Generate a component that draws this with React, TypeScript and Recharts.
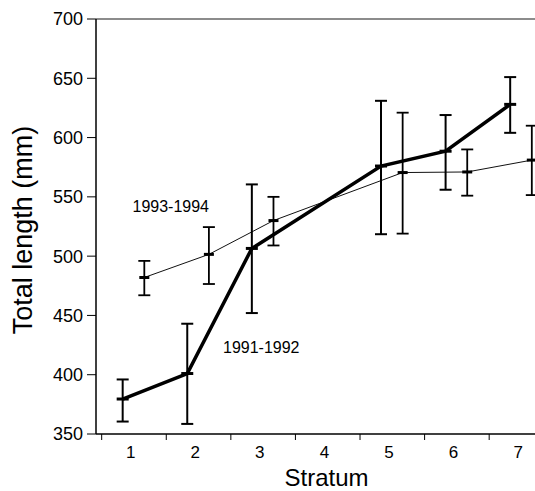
import React from "react";
import { LineChart, Line, XAxis, YAxis, ErrorBar, ReferenceLine } from "recharts";

// strata sampled in each period (stratum 4 has no sample)
const strata = [1, 2, 3, 5, 6, 7];

// 1991-1992 mean total length and error bar limits (mm)
const mean9192 = [379.5, 401, 506.5, 576, 588.5, 628];
const upper9192 = [396, 443, 560.5, 631, 619, 651];
const lower9192 = [360.5, 358.5, 452, 518.5, 556, 604];

// 1993-1994
const mean9394 = [482, 501.5, 530, 570.5, 571, 581];
const upper9394 = [496, 524.5, 550, 621, 590, 610];
const lower9394 = [467, 476.5, 509, 519, 551, 551.5];

const yTicks = [350, 400, 450, 500, 550, 600, 650, 700];
// tick marks sit on the stratum boundaries, labels inside each stratum
const xBoundaries = [0.5, 1.5, 2.5, 3.5, 4.5, 5.5, 6.5];

// the two periods are drawn side by side inside a stratum
const OFFSET_9192 = -0.175;
const OFFSET_9394 = 0.16;

const build = (means: number[], upper: number[], lower: number[], offset: number) =>
  strata.map((s, i) => ({
    x: s + offset,
    y: means[i],
    err: [means[i] - lower[i], upper[i] - means[i]],
  }));

const data9192 = build(mean9192, upper9192, lower9192, OFFSET_9192);
const data9394 = build(mean9394, upper9394, lower9394, OFFSET_9394);

const FONT = "Arial, 'Liberation Sans', Helvetica, sans-serif";

const Dash = (w: number, key: string) => (props: any) => {
  const { cx, cy, index } = props;
  return (
    <line
      key={`${key}-${index}`}
      x1={cx - w}
      x2={cx + w}
      y1={cy}
      y2={cy}
      stroke="#000"
      strokeWidth={3}
    />
  );
};

const StratumTick = (props: any) => {
  const { x, payload } = props;
  return (
    <text x={x + 29} y={458} textAnchor="middle" fontSize={17} fontFamily={FONT} fill="#000">
      {payload.value + 0.5}
    </text>
  );
};

export default function App() {
  return (
    <div
      style={{
        position: "absolute",
        left: 0,
        top: 0,
        width: 535,
        height: 491,
        overflow: "hidden",
        background: "#fff",
      }}
    >
      <LineChart width={557} height={491} margin={{ top: 19, right: 0, bottom: 0, left: 0 }}>
        <XAxis
          type="number"
          dataKey="x"
          domain={[0.412, 7.55]}
          ticks={xBoundaries}
          interval={0}
          height={57}
          tickSize={6}
          tick={<StratumTick />}
          axisLine={{ stroke: "#000", strokeWidth: 1.5 }}
          tickLine={{ stroke: "#000", strokeWidth: 1 }}
        />
        <YAxis
          type="number"
          domain={[350, 700]}
          ticks={yTicks}
          interval={0}
          width={96}
          tickSize={9}
          tickMargin={4}
          tick={{ fontSize: 18, fontFamily: FONT, fill: "#000" }}
          axisLine={{ stroke: "#000", strokeWidth: 1.5 }}
          tickLine={{ stroke: "#000", strokeWidth: 1 }}
        />
        <ReferenceLine y={700} stroke="#666" strokeWidth={1.5} />
        <Line
          data={data9394}
          dataKey="y"
          stroke="#111"
          strokeWidth={1}
          dot={Dash(5, "b")}
          isAnimationActive={false}
        >
          <ErrorBar dataKey="err" direction="y" width={6} stroke="#000" strokeWidth={1.8} />
        </Line>
        <Line
          data={data9192}
          dataKey="y"
          stroke="#000"
          strokeWidth={3.5}
          dot={Dash(6, "a")}
          isAnimationActive={false}
        >
          <ErrorBar dataKey="err" direction="y" width={6} stroke="#000" strokeWidth={2} />
        </Line>
        <text x={132.5} y={211.5} fontSize={16} fontFamily={FONT} fill="#000">
          1993-1994
        </text>
        <text x={223} y={352.5} fontSize={16} fontFamily={FONT} fill="#000">
          1991-1992
        </text>
        <text
          x={32}
          y={230}
          transform="rotate(-90, 32, 230)"
          textAnchor="middle"
          fontSize={27}
          fontFamily={FONT}
          fill="#000"
        >
          Total length (mm)
        </text>
        <text x={326.5} y={486} textAnchor="middle" fontSize={24} fontFamily={FONT} fill="#000">
          Stratum
        </text>
      </LineChart>
    </div>
  );
}
